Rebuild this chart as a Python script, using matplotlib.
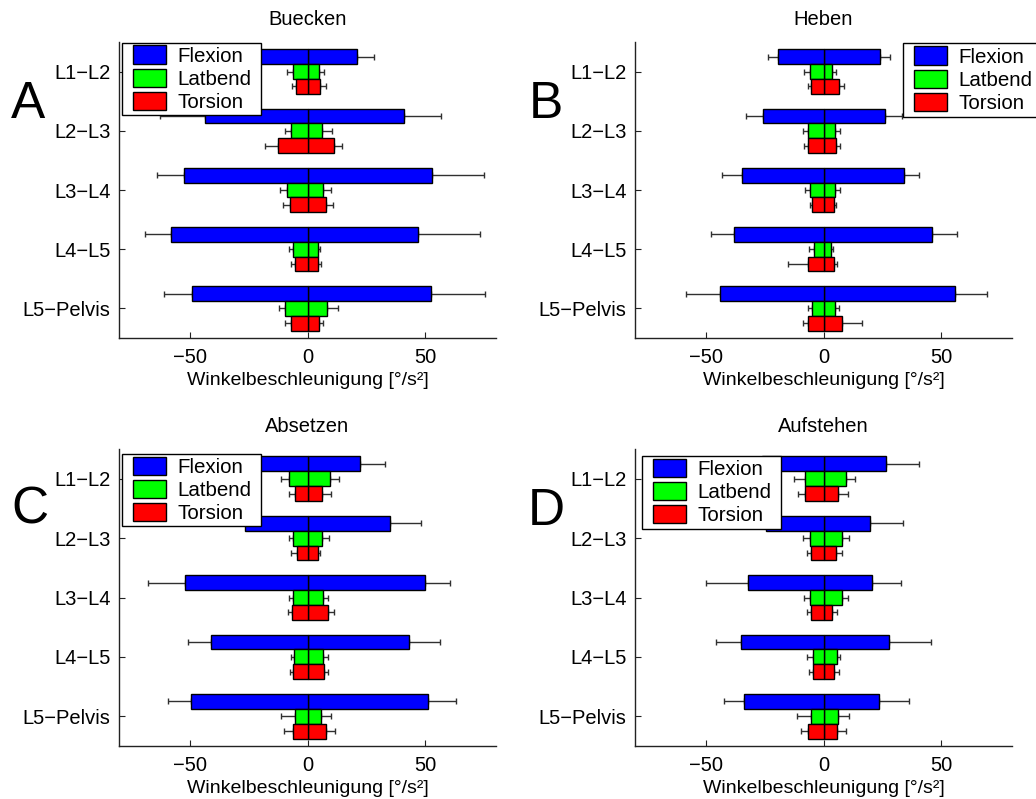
import numpy as np
import matplotlib
matplotlib.use("Agg")
import matplotlib.pyplot as plt
from matplotlib.patches import Rectangle

plt.rcParams['font.family'] = ['Liberation Sans', 'DejaVu Sans']

levels = ['L1\u2212L2', 'L2\u2212L3', 'L3\u2212L4', 'L4\u2212L5', 'L5\u2212Pelvis']
components = ['Flexion', 'Latbend', 'Torsion']
titles = ['Buecken', 'Heben', 'Absetzen', 'Aufstehen']
panel_letters = ['A', 'B', 'C', 'D']
xlabel = 'Winkelbeschleunigung [°/s²]'

# rows: Flexion, Latbend, Torsion; columns: L1-L2 ... L5-Pelvis
buecken_pos = [[21.0, 40.9, 52.8, 47.0, 52.4],
               [5.0, 6.25, 6.7, 4.3, 8.4],
               [5.4, 11.4, 7.8, 4.3, 4.7]]
buecken_pos_err = [[7.4, 15.6, 22.1, 26.3, 23.0],
                   [2.0, 4.25, 3.2, 1.2, 4.5],
                   [2.6, 3.4, 3.1, 1.5, 1.8]]
buecken_neg = [[-30.0, -43.5, -52.3, -58.1, -49.0],
               [-6.0, -7.1, -8.7, -6.0, -9.4],
               [-5.0, -12.6, -7.5, -5.3, -7.1]]
buecken_neg_err = [[8.0, 19.1, 11.5, 10.7, 11.9],
                   [2.5, 2.3, 2.8, 1.7, 2.8],
                   [1.4, 5.4, 3.0, 1.9, 2.3]]

heben_pos = [[23.9, 26.1, 34.1, 46.0, 56.0],
             [3.8, 4.8, 4.7, 3.0, 4.7],
             [6.4, 5.1, 4.3, 4.3, 7.8]]
heben_pos_err = [[4.2, 7.3, 6.4, 10.7, 13.2],
                 [1.7, 2.2, 2.1, 1.1, 2.0],
                 [2.1, 2.0, 1.2, 1.5, 8.5]]
heben_neg = [[-19.2, -25.6, -34.8, -37.9, -43.8],
             [-5.8, -6.5, -5.7, -4.1, -5.0],
             [-5.5, -6.7, -4.7, -6.4, -6.4]]
heben_neg_err = [[4.5, 7.1, 8.2, 9.7, 14.4],
                 [2.3, 2.3, 2.1, 2.15, 1.4],
                 [1.2, 1.5, 1.1, 8.8, 2.1]]

absetzen_pos = [[22.4, 34.9, 50.0, 43.2, 51.3],
                [9.4, 6.25, 6.7, 6.4, 5.8],
                [6.25, 4.3, 8.9, 7.0, 7.7]]
absetzen_pos_err = [[10.7, 13.1, 10.4, 13.2, 11.9],
                    [3.8, 2.85, 2.1, 2.1, 4.1],
                    [3.65, 1.2, 2.5, 1.7, 3.8]]
absetzen_neg = [[-28.0, -26.4, -51.8, -40.8, -49.3],
                [-7.7, -6.0, -6.0, -5.7, -5.5],
                [-5.4, -4.4, -6.7, -6.25, -6.1]]
absetzen_neg_err = [[8.0, 8.0, 15.7, 10.1, 9.9],
                    [3.5, 2.0, 2.0, 1.5, 5.6],
                    [2.3, 2.4, 1.5, 1.25, 3.8]]

aufstehen_pos = [[26.7, 19.7, 20.7, 27.9, 23.4],
                 [9.6, 7.7, 7.7, 5.8, 6.1],
                 [6.2, 5.4, 3.7, 4.3, 5.8]]
aufstehen_pos_err = [[13.9, 14.1, 12.3, 17.6, 12.8],
                     [3.9, 3.1, 2.7, 1.4, 4.7],
                     [4.4, 2.4, 2.1, 2.1, 3.6]]
aufstehen_neg = [[-26.0, -24.5, -32.1, -34.9, -33.6],
                 [-7.8, -5.7, -5.7, -4.4, -5.2],
                 [-7.8, -5.2, -5.2, -4.4, -6.7]]
aufstehen_neg_err = [[8.0, 8.0, 17.7, 10.9, 8.5],
                     [4.8, 3.0, 2.7, 2.6, 6.1],
                     [3.0, 1.8, 1.8, 1.6, 2.9]]

panels = [
    (buecken_pos, buecken_pos_err, buecken_neg, buecken_neg_err),
    (heben_pos, heben_pos_err, heben_neg, heben_neg_err),
    (absetzen_pos, absetzen_pos_err, absetzen_neg, absetzen_neg_err),
    (aufstehen_pos, aufstehen_pos_err, aufstehen_neg, aufstehen_neg_err),
]

colors = ['#0000ff', '#00ff00', '#ff0000']
offsets = [-0.25, 0.0, 0.25]
bar_h = 0.25

W, H = 1036, 799
fig = plt.figure(figsize=(W / 100, H / 100), dpi=100)

# axes boxes in pixels: (left, top, right, bottom)
boxes = [(119, 42, 496, 338), (635, 42, 1012, 338),
         (119, 449, 496, 746), (635, 449, 1012, 746)]
# legend frames in pixels: (left, top, width, height)
legend_frames = [(122, 42.5, 139, 72.5), (903, 43.5, 139, 73),
                 (122, 453.5, 139, 72.5), (642, 455.5, 139, 73)]
letter_pos = [(28.5, 104), (545.5, 104), (29.7, 509.5), (546.5, 511.5)]

spine_col = '#222222'
y = np.arange(1, len(levels) + 1)

for k, (pos, pos_err, neg, neg_err) in enumerate(panels):
    l, t, r, b = boxes[k]
    ax = fig.add_axes([l / W, 1 - b / H, (r - l) / W, (b - t) / H])
    handles = []
    for c in range(3):
        yy = y + offsets[c]
        p = np.array(pos[c])
        n = np.array(neg[c])
        pe = np.array(pos_err[c])
        ne = np.array(neg_err[c])
        z = np.zeros_like(p)
        ax.errorbar(p, yy, xerr=[z, pe], fmt='none', ecolor='#303030',
                    elinewidth=1.0, capsize=2.5, capthick=1.0, zorder=1)
        ax.errorbar(n, yy, xerr=[ne, z], fmt='none', ecolor='#303030',
                    elinewidth=1.0, capsize=2.5, capthick=1.0, zorder=1)
        h = ax.barh(yy, p, height=bar_h, left=0, color=colors[c],
                    edgecolor='black', linewidth=1.0, zorder=2,
                    label=components[c])
        ax.barh(yy, n, height=bar_h, left=0, color=colors[c],
                edgecolor='black', linewidth=1.0, zorder=2)
        handles.append(h)

    ax.set_xlim(-80, 80)
    ax.set_ylim(5.5, 0.5)
    ax.set_yticks(y)
    ax.set_yticklabels(levels, fontsize=14.5)
    ax.set_xticks([-50, 0, 50])
    ax.set_xticklabels(['\u221250', '0', '50'], fontsize=14.5)
    ax.tick_params(direction='in', length=4, width=0.8, colors=spine_col,
                   labelcolor='black')
    ax.tick_params(axis='x', pad=7)
    ax.tick_params(axis='y', pad=6)
    for s in ['top', 'right']:
        ax.spines[s].set_visible(False)
    for s in ['left', 'bottom']:
        ax.spines[s].set_color(spine_col)
        ax.spines[s].set_linewidth(1.0)
    ax.set_title(titles[k], fontsize=14.5, pad=12)
    ax.set_xlabel(xlabel, fontsize=14, labelpad=4)

    # legend: white frame box with the entries placed inside it
    fx, fy, fw, fh = legend_frames[k]
    fig.patches.append(Rectangle((fx / W, 1 - (fy + fh) / H), fw / W, fh / H,
                                 transform=fig.transFigure, facecolor='white',
                                 edgecolor='black', linewidth=1.0, zorder=4))
    leg = fig.legend(handles=handles, labels=components, loc='upper left',
                     bbox_to_anchor=((fx + 11) / W, 1 - (fy + 3.0) / H),
                     fontsize=14.8, frameon=False,
                     borderaxespad=0, borderpad=0, handlelength=1.62,
                     handleheight=1.0, handletextpad=0.54,
                     labelspacing=0.14)
    leg.set_zorder(5)

    px, py = letter_pos[k]
    fig.text(px / W, 1 - py / H, panel_letters[k], fontsize=37,
             ha='center', va='center')

fig.savefig('out.png', dpi=100)
